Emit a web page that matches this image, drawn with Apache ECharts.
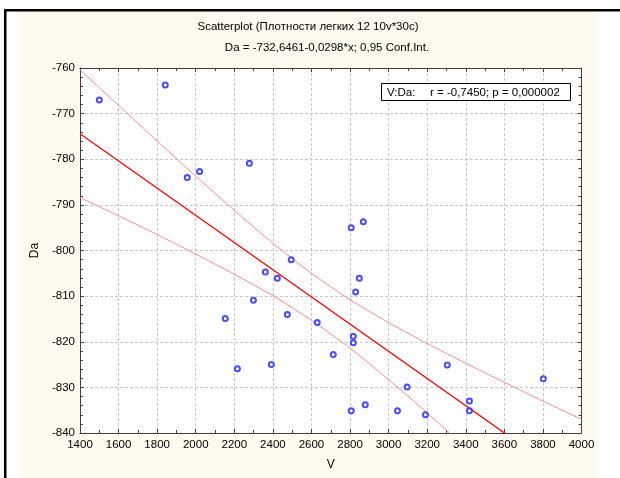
<!DOCTYPE html>
<html>
<head>
<meta charset="utf-8">
<script src="https://cdn.jsdelivr.net/npm/echarts@6/dist/echarts.min.js"></script>
<style>
html,body{margin:0;padding:0;background:#fff;}
#chart{width:620px;height:478px;}
</style>
</head>
<body>
<div id="chart"></div>
<script>
// ---- data ----
const vValues = [1500, 1842, 1956, 2020, 2278, 2495, 2806, 2869, 2848, 2829,
                 2361, 2423, 2299, 2153, 2475, 2630, 2817, 2817, 2713, 2216,
                 2392, 2806, 2879, 3046, 3304, 3802, 3096, 3191, 3419, 3419];
const daValues = [-767.0, -763.7, -784.0, -782.7, -780.9, -802.0, -795.0, -793.7, -806.1, -809.1,
                  -804.7, -806.1, -810.9, -814.9, -814.0, -815.8, -818.8, -820.2, -822.8, -825.9,
                  -825.0, -835.1, -833.8, -835.1, -825.1, -828.1, -829.9, -836.0, -833.0, -835.1];
const fitX = [1400, 4000];
const fitY = [-774.4, -851.9];
const bandX = [1400, 1600, 1800, 2000, 2200, 2400, 2600, 2800, 3000, 3200, 3400, 3600, 3800, 4000];
const upperBand = [-760.4, -768.2, -776.0, -783.7, -791.2, -798.4, -805.0, -810.8, -815.8, -820.4, -824.7, -828.9, -833.0, -837.0];
const lowerBand = [-788.4, -792.4, -796.5, -800.8, -805.2, -809.9, -815.3, -821.4, -828.3, -835.6, -843.2, -851.0, -858.8, -866.7];
const xTicks = {min: 1400, max: 4000, interval: 200};
const yTicks = {min: -840, max: -760, interval: 10};
const titleText = 'Scatterplot (Плотности легких 12 10v*30c)';
const subtitleText = 'Da = -732,6461-0,0298*x; 0,95 Conf.Int.';
const xName = 'V';
const yName = 'Da';
const statLabel = 'V:Da:';
const statText = 'r = -0,7450; p = 0,000002';

const FONT = 'Liberation Sans, Arial, sans-serif';
const pts = vValues.map((v, i) => [v, daValues[i]]);
const fitLine = fitX.map((v, i) => [v, fitY[i]]);
const up = bandX.map((v, i) => [v, upperBand[i]]);
const lo = bandX.map((v, i) => [v, lowerBand[i]]);

const axisLineStyle = {color: '#404040', width: 1};
const splitStyle = {show: true, lineStyle: {color: '#c8c8c8', type: [3, 2], width: 1}};

function xAxis(pos, labels) {
  return {
    type: 'value', position: pos, min: xTicks.min, max: xTicks.max, interval: xTicks.interval,
    axisLine: {show: true, onZero: false, lineStyle: axisLineStyle},
    axisTick: {show: true, inside: true, length: 4, lineStyle: axisLineStyle},
    minorTick: {show: true, splitNumber: 2, length: 3, lineStyle: axisLineStyle},
    axisLabel: {show: labels, color: '#000', fontSize: 11.5, fontFamily: FONT, margin: 6,
                formatter: v => String(v)},
    splitLine: labels ? splitStyle : {show: false},
    name: labels ? xName : '', nameLocation: 'middle', nameGap: 26,
    nameTextStyle: {color: '#000', fontSize: 12, fontFamily: FONT}
  };
}
function yAxis(pos, labels) {
  return {
    type: 'value', position: pos, min: yTicks.min, max: yTicks.max, interval: yTicks.interval,
    axisLine: {show: true, onZero: false, lineStyle: axisLineStyle},
    axisTick: {show: true, inside: true, length: 4, lineStyle: axisLineStyle},
    minorTick: {show: true, splitNumber: 5, length: 3, lineStyle: axisLineStyle},
    axisLabel: {show: labels, color: '#000', fontSize: 11.5, fontFamily: FONT, margin: 5,
                formatter: v => String(v)},
    splitLine: labels ? splitStyle : {show: false},
    name: labels ? yName : '', nameLocation: 'middle', nameGap: 39,
    nameTextStyle: {color: '#000', fontSize: 12, fontFamily: FONT}
  };
}

const chart = echarts.init(document.getElementById('chart'), null, {renderer: 'canvas'});
chart.setOption({
  animation: false,
  backgroundColor: '#ffffff',
  grid: {left: 80, right: 38.5, top: 68, bottom: 45, show: true, backgroundColor: '#ffffff', borderWidth: 0},
  xAxis: [xAxis('bottom', true), xAxis('top', false)],
  yAxis: [yAxis('left', true), yAxis('right', false)],
  graphic: [
    {type: 'rect', z: -100, shape: {x: 19, y: 11, width: 580, height: 467}, style: {fill: '#fffaef'}},
    {type: 'rect', z: 100, shape: {x: 4, y: 9, width: 616, height: 2.5}, style: {fill: '#000'}},
    {type: 'rect', z: 100, shape: {x: 4, y: 9, width: 2.5, height: 469}, style: {fill: '#000'}},
    {type: 'text', z: 100, x: 308, y: 27, style: {text: titleText, font: '11.5px ' + FONT, fill: '#000', align: 'center', verticalAlign: 'middle', textAlign: 'center', textVerticalAlign: 'middle'}},
    {type: 'text', z: 100, x: 327, y: 48, style: {text: subtitleText, font: '11.5px ' + FONT, fill: '#000', align: 'center', verticalAlign: 'middle', textAlign: 'center', textVerticalAlign: 'middle'}},
    {type: 'rect', z: 100, shape: {x: 381.5, y: 83.5, width: 189, height: 17}, style: {fill: '#fff', stroke: '#000', lineWidth: 1}},
    {type: 'text', z: 101, x: 387, y: 92.5, style: {text: statLabel, font: '11.5px ' + FONT, fill: '#000', align: 'left', verticalAlign: 'middle', textAlign: 'left', textVerticalAlign: 'middle'}},
    {type: 'text', z: 101, x: 430, y: 92.5, style: {text: statText, font: '11.5px ' + FONT, fill: '#000', align: 'left', verticalAlign: 'middle', textAlign: 'left', textVerticalAlign: 'middle'}}
  ],
  series: [
    {type: 'line', data: up, showSymbol: false, symbol: 'none', clip: true, silent: true, smooth: 0.2,
     lineStyle: {color: '#ff8a8a', width: 1}, z: 2},
    {type: 'line', data: lo, showSymbol: false, symbol: 'none', clip: true, silent: true, smooth: 0.2,
     lineStyle: {color: '#ff8a8a', width: 1}, z: 2},
    {type: 'line', data: fitLine, showSymbol: false, symbol: 'none', clip: true, silent: true,
     lineStyle: {color: '#ff0000', width: 1.3}, z: 3},
    {type: 'scatter', data: pts, symbol: 'emptyCircle', symbolSize: 5, silent: true, z: 4,
     itemStyle: {color: '#1f1fff', borderColor: '#1f1fff', borderWidth: 1.1}}
  ]
});
</script>
</body>
</html>
